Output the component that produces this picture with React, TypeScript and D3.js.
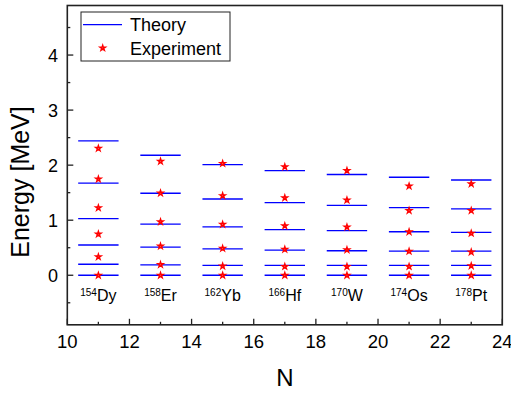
import React from "react";
import * as d3 from "d3";

// nuclei and their neutron-number positions
const nuclei = ["Dy", "Er", "Yb", "Hf", "W", "Os", "Pt"];
const masses = [154, 158, 162, 166, 170, 174, 178];
const nPositions = [11, 13, 15, 17, 19, 21, 23];

// level energies (MeV), ground band 0+ ... 10+
const theory = [
  [0, 0.2, 0.55, 1.03, 1.675, 2.44],
  [0, 0.19, 0.51, 0.93, 1.49, 2.18],
  [0, 0.18, 0.48, 0.88, 1.385, 2.01],
  [0, 0.18, 0.455, 0.83, 1.32, 1.9],
  [0, 0.18, 0.445, 0.81, 1.27, 1.83],
  [0, 0.18, 0.44, 0.79, 1.23, 1.78],
  [0, 0.18, 0.44, 0.78, 1.205, 1.73],
];
const experiment = [
  [0, 0.334, 0.747, 1.224, 1.747, 2.304],
  [0, 0.192, 0.528, 0.97, 1.493, 2.07],
  [0, 0.167, 0.487, 0.923, 1.445, 2.03],
  [0, 0.159, 0.47, 0.897, 1.406, 1.97],
  [0, 0.157, 0.462, 0.876, 1.364, 1.9],
  [0, 0.159, 0.436, 0.788, 1.176, 1.62],
  [0, 0.17, 0.421, 0.763, 1.175, 1.66],
];

const xTicks = [10, 12, 14, 16, 18, 20, 22, 24];
const yTicks = [0, 1, 2, 3, 4];

const FONT = "'Liberation Sans', Arial, sans-serif";

export default function App() {
  const left = 67.3;
  const right = 502.3;
  const top = 5.5;
  const bottom = 324.8;

  const x = d3.scaleLinear().domain([10, 24]).range([left, right]);
  const y = d3.scaleLinear().domain([-0.9, 4.9]).range([bottom, top]);

  const halfWidth = 0.65;
  const star = d3.symbol().type(d3.symbolStar).size(9)()!;

  const xMinor = d3.range(11, 24, 2);
  const yMinor = d3.range(-0.5, 4.9, 1);

  return (
    <svg
      width={511}
      height={393}
      style={{ position: "fixed", left: 0, top: 0, background: "#fff" }}
      fontFamily={FONT}
    >
      {/* theory levels */}
      {theory.map((levels, i) =>
        levels.map((e, j) => (
          <line
            key={`t${i}-${j}`}
            x1={x(nPositions[i] - halfWidth)}
            x2={x(nPositions[i] + halfWidth)}
            y1={y(e)}
            y2={y(e)}
            stroke="#0000ff"
            strokeWidth={1.3}
          />
        ))
      )}

      {/* experimental levels */}
      {experiment.map((levels, i) =>
        levels.map((e, j) => (
          <path
            key={`e${i}-${j}`}
            d={star}
            transform={`translate(${x(nPositions[i])},${y(e)})`}
            fill="#ffb0b0"
            stroke="#ff0000"
            strokeWidth={1.4}
          />
        ))
      )}

      {/* nucleus labels */}
      {nuclei.map((name, i) => (
        <text
          key={name}
          x={x(nPositions[i])}
          y={301}
          textAnchor="middle"
          fontSize={16}
          fill="#000"
        >
          <tspan fontSize={10} dy={-5}>
            {masses[i]}
          </tspan>
          <tspan dy={5}>{name}</tspan>
        </text>
      ))}

      {/* frame */}
      <rect
        x={left}
        y={top}
        width={right - left}
        height={bottom - top}
        fill="none"
        stroke="#222"
        strokeWidth={1.6}
      />

      {/* x ticks */}
      {xTicks.map((t) => (
        <g key={`xt${t}`}>
          <line x1={x(t)} x2={x(t)} y1={bottom} y2={bottom - 6} stroke="#222" strokeWidth={1.3} />
          <text x={x(t)} y={348} textAnchor="middle" fontSize={18.5}>
            {t}
          </text>
        </g>
      ))}
      {xMinor.map((t) => (
        <line key={`xm${t}`} x1={x(t)} x2={x(t)} y1={bottom} y2={bottom - 3} stroke="#222" strokeWidth={1.3} />
      ))}

      {/* y ticks */}
      {yTicks.map((t) => (
        <g key={`yt${t}`}>
          <line x1={left} x2={left + 6} y1={y(t)} y2={y(t)} stroke="#222" strokeWidth={1.3} />
          <text x={58} y={y(t) + 6.5} textAnchor="end" fontSize={18}>
            {t}
          </text>
        </g>
      ))}
      {yMinor.map((t) => (
        <line key={`ym${t}`} x1={left} x2={left + 3} y1={y(t)} y2={y(t)} stroke="#222" strokeWidth={1.3} />
      ))}

      {/* axis titles */}
      <text x={(left + right) / 2} y={386} textAnchor="middle" fontSize={24}>
        N
      </text>
      <text
        transform={`translate(29,182) rotate(-90)`}
        textAnchor="middle"
        fontSize={25}
      >
        Energy [MeV]
      </text>

      {/* legend */}
      <rect x={81} y={12} width={149} height={49} fill="#fff" stroke="#222" strokeWidth={1} />
      <line x1={83} x2={122} y1={24.7} y2={24.7} stroke="#0000ff" strokeWidth={1.3} />
      <text x={130} y={30.5} fontSize={18}>
        Theory
      </text>
      <path d={star} transform="translate(102.7,48)" fill="#ffb0b0" stroke="#ff0000" strokeWidth={1.4} />
      <text x={130} y={54.5} fontSize={18}>
        Experiment
      </text>
    </svg>
  );
}
